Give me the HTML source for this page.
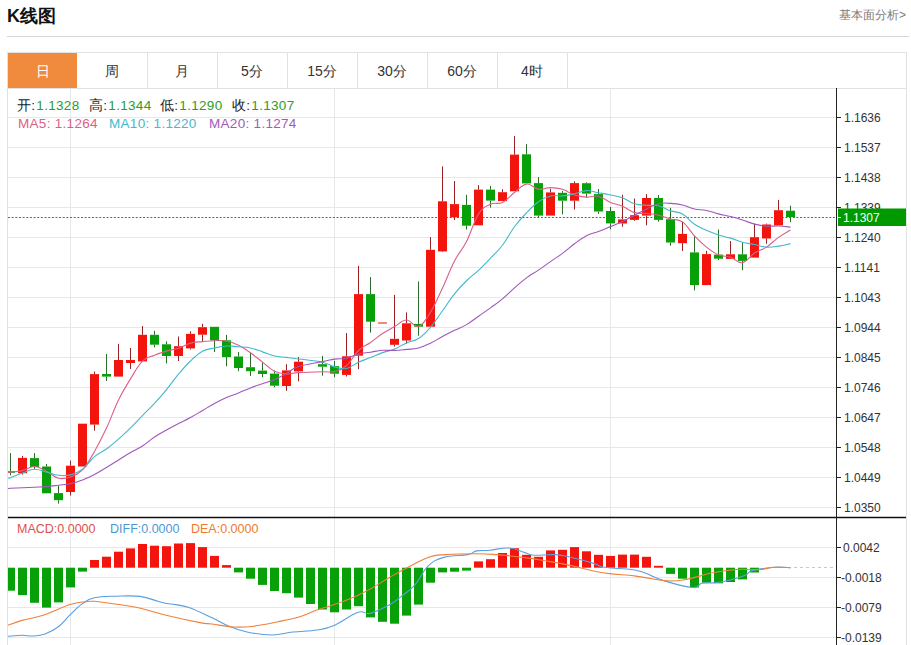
<!DOCTYPE html>
<html><head><meta charset="utf-8">
<style>
html,body{margin:0;padding:0;background:#fff;}
body{width:911px;height:645px;overflow:hidden;position:relative;font-family:"Liberation Sans",sans-serif;}
.title{position:absolute;left:7px;top:4px;font-size:18px;font-weight:bold;color:#111;line-height:24px;}
.more{position:absolute;right:5px;top:7px;font-size:12px;color:#7c7c7c;line-height:16px;}
.hline{position:absolute;left:7px;top:36px;width:902px;height:1px;background:#d6d6d6;}
.tabs{position:absolute;left:7px;top:52px;width:898px;height:35px;border:1px solid #e2e2e2;border-right:1px solid #e2e2e2;}
.tab{position:absolute;top:0;height:35px;width:70px;border-right:1px solid #e2e2e2;text-align:center;line-height:37px;font-size:14px;color:#333;}
.tab.on{background:#f08a3c;color:#fff;border-right:none;top:0px;}
.chart{position:absolute;left:7px;top:88px;width:898px;height:600px;border-left:1px solid #e2e2e2;border-right:1px solid #e2e2e2;}
svg{position:absolute;left:0;top:0;}
.info{position:absolute;font-size:13.5px;line-height:16px;white-space:nowrap;letter-spacing:0.3px;}
.info span{margin-left:1px;}
.mi{position:absolute;font-size:12.5px;line-height:16px;white-space:nowrap;}
</style></head><body>
<div class="title">K线图</div>
<div class="more">基本面分析&gt;</div>
<div class="hline"></div>
<div class="tabs">
<div class="tab on" style="left:0;width:69px">日</div>
<div class="tab" style="left:69px">周</div>
<div class="tab" style="left:139px">月</div>
<div class="tab" style="left:209px">5分</div>
<div class="tab" style="left:279px">15分</div>
<div class="tab" style="left:349px">30分</div>
<div class="tab" style="left:419px">60分</div>
<div class="tab" style="left:489px">4时</div>
</div>
<div class="chart"></div>
<svg width="911" height="645">
<defs><clipPath id="cm"><rect x="8" y="88" width="828" height="557"/></clipPath></defs>
<line x1="8" y1="117.5" x2="836" y2="117.5" stroke="#e6e8ec" stroke-width="1"/>
<line x1="8" y1="147.5" x2="836" y2="147.5" stroke="#e6e8ec" stroke-width="1"/>
<line x1="8" y1="177.5" x2="836" y2="177.5" stroke="#e6e8ec" stroke-width="1"/>
<line x1="8" y1="207.5" x2="836" y2="207.5" stroke="#e6e8ec" stroke-width="1"/>
<line x1="8" y1="237.5" x2="836" y2="237.5" stroke="#e6e8ec" stroke-width="1"/>
<line x1="8" y1="267.5" x2="836" y2="267.5" stroke="#e6e8ec" stroke-width="1"/>
<line x1="8" y1="297.5" x2="836" y2="297.5" stroke="#e6e8ec" stroke-width="1"/>
<line x1="8" y1="327.5" x2="836" y2="327.5" stroke="#e6e8ec" stroke-width="1"/>
<line x1="8" y1="357.5" x2="836" y2="357.5" stroke="#e6e8ec" stroke-width="1"/>
<line x1="8" y1="387.5" x2="836" y2="387.5" stroke="#e6e8ec" stroke-width="1"/>
<line x1="8" y1="417.5" x2="836" y2="417.5" stroke="#e6e8ec" stroke-width="1"/>
<line x1="8" y1="447.5" x2="836" y2="447.5" stroke="#e6e8ec" stroke-width="1"/>
<line x1="8" y1="477.5" x2="836" y2="477.5" stroke="#e6e8ec" stroke-width="1"/>
<line x1="8" y1="507.5" x2="836" y2="507.5" stroke="#e6e8ec" stroke-width="1"/>
<line x1="8" y1="547.5" x2="836" y2="547.5" stroke="#e6e8ec" stroke-width="1"/>
<line x1="8" y1="577.5" x2="836" y2="577.5" stroke="#e6e8ec" stroke-width="1"/>
<line x1="8" y1="607.5" x2="836" y2="607.5" stroke="#e6e8ec" stroke-width="1"/>
<line x1="8" y1="637.5" x2="836" y2="637.5" stroke="#e6e8ec" stroke-width="1"/>
<line x1="70.5" y1="88" x2="70.5" y2="645" stroke="#e6e8ec" stroke-width="1"/>
<line x1="334.5" y1="88" x2="334.5" y2="645" stroke="#e6e8ec" stroke-width="1"/>
<line x1="610.5" y1="88" x2="610.5" y2="645" stroke="#e6e8ec" stroke-width="1"/>
<line x1="8" y1="217.5" x2="836" y2="217.5" stroke="#2e8b2e" stroke-width="1" stroke-dasharray="2,1.65"/>
<g clip-path="url(#cm)"><line x1="10.5" y1="453.1" x2="10.5" y2="471.2" stroke="#2a6e2a" stroke-width="1"/><line x1="10.5" y1="472.8" x2="10.5" y2="475.3" stroke="#2a6e2a" stroke-width="1"/><rect x="6.0" y="471.2" width="9" height="1.6" fill="#08a008"/><line x1="22.5" y1="455.9" x2="22.5" y2="457.9" stroke="#9a2222" stroke-width="1"/><line x1="22.5" y1="473.2" x2="22.5" y2="474.7" stroke="#9a2222" stroke-width="1"/><rect x="18.0" y="457.9" width="9" height="15.3" fill="#f4140e"/><line x1="34.5" y1="453.1" x2="34.5" y2="458.1" stroke="#2a6e2a" stroke-width="1"/><line x1="34.5" y1="467.0" x2="34.5" y2="469.2" stroke="#2a6e2a" stroke-width="1"/><rect x="30.0" y="458.1" width="9" height="8.9" fill="#08a008"/><line x1="46.5" y1="464.0" x2="46.5" y2="466.5" stroke="#2a6e2a" stroke-width="1"/><rect x="42.0" y="466.5" width="9" height="26.8" fill="#08a008"/><line x1="58.5" y1="485.8" x2="58.5" y2="493.1" stroke="#2a6e2a" stroke-width="1"/><line x1="58.5" y1="500.2" x2="58.5" y2="503.6" stroke="#2a6e2a" stroke-width="1"/><rect x="54.0" y="493.1" width="9" height="7.1" fill="#08a008"/><line x1="70.5" y1="460.6" x2="70.5" y2="465.7" stroke="#9a2222" stroke-width="1"/><line x1="70.5" y1="492.0" x2="70.5" y2="495.5" stroke="#9a2222" stroke-width="1"/><rect x="66.0" y="465.7" width="9" height="26.3" fill="#f4140e"/><rect x="78.0" y="423.7" width="9" height="42.8" fill="#f4140e"/><line x1="94.5" y1="371.5" x2="94.5" y2="374.1" stroke="#9a2222" stroke-width="1"/><line x1="94.5" y1="424.6" x2="94.5" y2="430.6" stroke="#9a2222" stroke-width="1"/><rect x="90.0" y="374.1" width="9" height="50.5" fill="#f4140e"/><line x1="106.5" y1="354.0" x2="106.5" y2="374.0" stroke="#2a6e2a" stroke-width="1"/><line x1="106.5" y1="376.6" x2="106.5" y2="381.0" stroke="#2a6e2a" stroke-width="1"/><rect x="102.0" y="374.0" width="9" height="2.6" fill="#08a008"/><line x1="118.5" y1="343.9" x2="118.5" y2="360.0" stroke="#9a2222" stroke-width="1"/><rect x="114.0" y="360.0" width="9" height="16.6" fill="#f4140e"/><line x1="130.5" y1="348.0" x2="130.5" y2="360.0" stroke="#9a2222" stroke-width="1"/><line x1="130.5" y1="363.0" x2="130.5" y2="369.0" stroke="#9a2222" stroke-width="1"/><rect x="126.0" y="360.0" width="9" height="3.0" fill="#f4140e"/><line x1="142.5" y1="326.0" x2="142.5" y2="334.8" stroke="#9a2222" stroke-width="1"/><rect x="138.0" y="334.8" width="9" height="26.6" fill="#f4140e"/><line x1="154.5" y1="330.8" x2="154.5" y2="334.8" stroke="#2a6e2a" stroke-width="1"/><line x1="154.5" y1="344.7" x2="154.5" y2="347.3" stroke="#2a6e2a" stroke-width="1"/><rect x="150.0" y="334.8" width="9" height="9.9" fill="#08a008"/><line x1="166.5" y1="341.3" x2="166.5" y2="344.3" stroke="#2a6e2a" stroke-width="1"/><line x1="166.5" y1="356.0" x2="166.5" y2="363.4" stroke="#2a6e2a" stroke-width="1"/><rect x="162.0" y="344.3" width="9" height="11.7" fill="#08a008"/><line x1="178.5" y1="336.5" x2="178.5" y2="346.2" stroke="#9a2222" stroke-width="1"/><line x1="178.5" y1="356.0" x2="178.5" y2="361.0" stroke="#9a2222" stroke-width="1"/><rect x="174.0" y="346.2" width="9" height="9.8" fill="#f4140e"/><line x1="190.5" y1="331.3" x2="190.5" y2="333.9" stroke="#9a2222" stroke-width="1"/><line x1="190.5" y1="348.4" x2="190.5" y2="349.6" stroke="#9a2222" stroke-width="1"/><rect x="186.0" y="333.9" width="9" height="14.5" fill="#f4140e"/><line x1="202.5" y1="323.8" x2="202.5" y2="327.2" stroke="#9a2222" stroke-width="1"/><line x1="202.5" y1="334.7" x2="202.5" y2="342.0" stroke="#9a2222" stroke-width="1"/><rect x="198.0" y="327.2" width="9" height="7.5" fill="#f4140e"/><line x1="214.5" y1="340.3" x2="214.5" y2="352.0" stroke="#2a6e2a" stroke-width="1"/><rect x="210.0" y="326.8" width="9" height="13.5" fill="#08a008"/><line x1="226.5" y1="334.9" x2="226.5" y2="340.3" stroke="#2a6e2a" stroke-width="1"/><line x1="226.5" y1="357.1" x2="226.5" y2="366.2" stroke="#2a6e2a" stroke-width="1"/><rect x="222.0" y="340.3" width="9" height="16.8" fill="#08a008"/><line x1="238.5" y1="352.0" x2="238.5" y2="356.5" stroke="#2a6e2a" stroke-width="1"/><line x1="238.5" y1="368.0" x2="238.5" y2="371.2" stroke="#2a6e2a" stroke-width="1"/><rect x="234.0" y="356.5" width="9" height="11.5" fill="#08a008"/><line x1="250.5" y1="352.8" x2="250.5" y2="367.2" stroke="#2a6e2a" stroke-width="1"/><line x1="250.5" y1="371.2" x2="250.5" y2="376.0" stroke="#2a6e2a" stroke-width="1"/><rect x="246.0" y="367.2" width="9" height="4.0" fill="#08a008"/><line x1="262.5" y1="362.1" x2="262.5" y2="370.6" stroke="#2a6e2a" stroke-width="1"/><line x1="262.5" y1="374.0" x2="262.5" y2="377.2" stroke="#2a6e2a" stroke-width="1"/><rect x="258.0" y="370.6" width="9" height="3.4" fill="#08a008"/><line x1="274.5" y1="370.6" x2="274.5" y2="373.6" stroke="#2a6e2a" stroke-width="1"/><line x1="274.5" y1="385.7" x2="274.5" y2="387.3" stroke="#2a6e2a" stroke-width="1"/><rect x="270.0" y="373.6" width="9" height="12.1" fill="#08a008"/><line x1="286.5" y1="364.2" x2="286.5" y2="370.4" stroke="#9a2222" stroke-width="1"/><line x1="286.5" y1="386.0" x2="286.5" y2="390.7" stroke="#9a2222" stroke-width="1"/><rect x="282.0" y="370.4" width="9" height="15.6" fill="#f4140e"/><line x1="298.5" y1="357.1" x2="298.5" y2="361.7" stroke="#9a2222" stroke-width="1"/><line x1="298.5" y1="371.4" x2="298.5" y2="381.3" stroke="#9a2222" stroke-width="1"/><rect x="294.0" y="361.7" width="9" height="9.7" fill="#f4140e"/><line x1="322.5" y1="355.9" x2="322.5" y2="364.2" stroke="#2a6e2a" stroke-width="1"/><line x1="322.5" y1="366.7" x2="322.5" y2="375.7" stroke="#2a6e2a" stroke-width="1"/><rect x="318.0" y="364.2" width="9" height="2.5" fill="#08a008"/><line x1="334.5" y1="360.9" x2="334.5" y2="366.1" stroke="#2a6e2a" stroke-width="1"/><line x1="334.5" y1="373.7" x2="334.5" y2="377.2" stroke="#2a6e2a" stroke-width="1"/><rect x="330.0" y="366.1" width="9" height="7.6" fill="#08a008"/><line x1="346.5" y1="333.1" x2="346.5" y2="356.3" stroke="#9a2222" stroke-width="1"/><line x1="346.5" y1="374.9" x2="346.5" y2="376.5" stroke="#9a2222" stroke-width="1"/><rect x="342.0" y="356.3" width="9" height="18.6" fill="#f4140e"/><line x1="358.5" y1="265.9" x2="358.5" y2="294.1" stroke="#9a2222" stroke-width="1"/><line x1="358.5" y1="355.7" x2="358.5" y2="369.2" stroke="#9a2222" stroke-width="1"/><rect x="354.0" y="294.1" width="9" height="61.6" fill="#f4140e"/><line x1="370.5" y1="277.1" x2="370.5" y2="294.1" stroke="#2a6e2a" stroke-width="1"/><line x1="370.5" y1="321.7" x2="370.5" y2="332.6" stroke="#2a6e2a" stroke-width="1"/><rect x="366.0" y="294.1" width="9" height="27.6" fill="#08a008"/><rect x="378.0" y="322.1" width="9" height="1.8" fill="#ee8070"/><line x1="394.5" y1="294.9" x2="394.5" y2="338.8" stroke="#9a2222" stroke-width="1"/><line x1="394.5" y1="344.8" x2="394.5" y2="346.5" stroke="#9a2222" stroke-width="1"/><rect x="390.0" y="338.8" width="9" height="6.0" fill="#f4140e"/><line x1="406.5" y1="312.4" x2="406.5" y2="323.3" stroke="#9a2222" stroke-width="1"/><line x1="406.5" y1="340.5" x2="406.5" y2="343.8" stroke="#9a2222" stroke-width="1"/><rect x="402.0" y="323.3" width="9" height="17.2" fill="#f4140e"/><line x1="418.5" y1="281.4" x2="418.5" y2="323.9" stroke="#2a6e2a" stroke-width="1"/><line x1="418.5" y1="326.7" x2="418.5" y2="335.8" stroke="#2a6e2a" stroke-width="1"/><rect x="414.0" y="323.9" width="9" height="2.8" fill="#08a008"/><line x1="430.5" y1="237.1" x2="430.5" y2="249.8" stroke="#9a2222" stroke-width="1"/><rect x="426.0" y="249.8" width="9" height="76.9" fill="#f4140e"/><line x1="442.5" y1="166.4" x2="442.5" y2="201.3" stroke="#9a2222" stroke-width="1"/><line x1="442.5" y1="251.4" x2="442.5" y2="252.0" stroke="#9a2222" stroke-width="1"/><rect x="438.0" y="201.3" width="9" height="50.1" fill="#f4140e"/><line x1="454.5" y1="181.0" x2="454.5" y2="204.1" stroke="#9a2222" stroke-width="1"/><line x1="454.5" y1="217.3" x2="454.5" y2="220.0" stroke="#9a2222" stroke-width="1"/><rect x="450.0" y="204.1" width="9" height="13.2" fill="#f4140e"/><line x1="466.5" y1="194.8" x2="466.5" y2="204.9" stroke="#2a6e2a" stroke-width="1"/><line x1="466.5" y1="225.7" x2="466.5" y2="229.5" stroke="#2a6e2a" stroke-width="1"/><rect x="462.0" y="204.9" width="9" height="20.8" fill="#08a008"/><line x1="478.5" y1="185.2" x2="478.5" y2="189.6" stroke="#9a2222" stroke-width="1"/><rect x="474.0" y="189.6" width="9" height="35.7" fill="#f4140e"/><line x1="490.5" y1="186.0" x2="490.5" y2="189.6" stroke="#2a6e2a" stroke-width="1"/><line x1="490.5" y1="200.6" x2="490.5" y2="207.6" stroke="#2a6e2a" stroke-width="1"/><rect x="486.0" y="189.6" width="9" height="11.0" fill="#08a008"/><line x1="502.5" y1="189.2" x2="502.5" y2="192.2" stroke="#9a2222" stroke-width="1"/><rect x="498.0" y="192.2" width="9" height="8.9" fill="#f4140e"/><line x1="514.5" y1="136.1" x2="514.5" y2="154.6" stroke="#9a2222" stroke-width="1"/><rect x="510.0" y="154.6" width="9" height="36.7" fill="#f4140e"/><line x1="526.5" y1="144.1" x2="526.5" y2="154.3" stroke="#2a6e2a" stroke-width="1"/><rect x="522.0" y="154.3" width="9" height="29.1" fill="#08a008"/><line x1="538.5" y1="177.1" x2="538.5" y2="183.1" stroke="#2a6e2a" stroke-width="1"/><line x1="538.5" y1="215.6" x2="538.5" y2="217.0" stroke="#2a6e2a" stroke-width="1"/><rect x="534.0" y="183.1" width="9" height="32.5" fill="#08a008"/><line x1="550.5" y1="188.8" x2="550.5" y2="192.4" stroke="#9a2222" stroke-width="1"/><rect x="546.0" y="192.4" width="9" height="23.2" fill="#f4140e"/><line x1="562.5" y1="190.9" x2="562.5" y2="192.8" stroke="#2a6e2a" stroke-width="1"/><line x1="562.5" y1="200.7" x2="562.5" y2="214.3" stroke="#2a6e2a" stroke-width="1"/><rect x="558.0" y="192.8" width="9" height="7.9" fill="#08a008"/><line x1="574.5" y1="181.3" x2="574.5" y2="183.1" stroke="#9a2222" stroke-width="1"/><line x1="574.5" y1="200.7" x2="574.5" y2="209.6" stroke="#9a2222" stroke-width="1"/><rect x="570.0" y="183.1" width="9" height="17.6" fill="#f4140e"/><line x1="586.5" y1="182.3" x2="586.5" y2="183.2" stroke="#2a6e2a" stroke-width="1"/><line x1="586.5" y1="193.6" x2="586.5" y2="197.7" stroke="#2a6e2a" stroke-width="1"/><rect x="582.0" y="183.2" width="9" height="10.4" fill="#08a008"/><line x1="598.5" y1="189.0" x2="598.5" y2="194.1" stroke="#2a6e2a" stroke-width="1"/><line x1="598.5" y1="211.5" x2="598.5" y2="213.9" stroke="#2a6e2a" stroke-width="1"/><rect x="594.0" y="194.1" width="9" height="17.4" fill="#08a008"/><line x1="610.5" y1="206.9" x2="610.5" y2="211.0" stroke="#2a6e2a" stroke-width="1"/><line x1="610.5" y1="223.4" x2="610.5" y2="229.4" stroke="#2a6e2a" stroke-width="1"/><rect x="606.0" y="211.0" width="9" height="12.4" fill="#08a008"/><line x1="622.5" y1="194.8" x2="622.5" y2="219.4" stroke="#9a2222" stroke-width="1"/><line x1="622.5" y1="223.5" x2="622.5" y2="226.7" stroke="#9a2222" stroke-width="1"/><rect x="618.0" y="219.4" width="9" height="4.1" fill="#f4140e"/><line x1="634.5" y1="198.6" x2="634.5" y2="215.2" stroke="#9a2222" stroke-width="1"/><line x1="634.5" y1="219.9" x2="634.5" y2="220.8" stroke="#9a2222" stroke-width="1"/><rect x="630.0" y="215.2" width="9" height="4.7" fill="#f4140e"/><line x1="646.5" y1="194.2" x2="646.5" y2="198.0" stroke="#9a2222" stroke-width="1"/><line x1="646.5" y1="215.6" x2="646.5" y2="225.3" stroke="#9a2222" stroke-width="1"/><rect x="642.0" y="198.0" width="9" height="17.6" fill="#f4140e"/><line x1="658.5" y1="195.1" x2="658.5" y2="198.0" stroke="#2a6e2a" stroke-width="1"/><line x1="658.5" y1="219.9" x2="658.5" y2="221.7" stroke="#2a6e2a" stroke-width="1"/><rect x="654.0" y="198.0" width="9" height="21.9" fill="#08a008"/><line x1="670.5" y1="207.8" x2="670.5" y2="219.2" stroke="#2a6e2a" stroke-width="1"/><line x1="670.5" y1="242.5" x2="670.5" y2="245.7" stroke="#2a6e2a" stroke-width="1"/><rect x="666.0" y="219.2" width="9" height="23.3" fill="#08a008"/><line x1="682.5" y1="221.8" x2="682.5" y2="233.9" stroke="#9a2222" stroke-width="1"/><line x1="682.5" y1="243.2" x2="682.5" y2="250.9" stroke="#9a2222" stroke-width="1"/><rect x="678.0" y="233.9" width="9" height="9.3" fill="#f4140e"/><line x1="694.5" y1="236.1" x2="694.5" y2="252.4" stroke="#2a6e2a" stroke-width="1"/><line x1="694.5" y1="285.1" x2="694.5" y2="290.3" stroke="#2a6e2a" stroke-width="1"/><rect x="690.0" y="252.4" width="9" height="32.7" fill="#08a008"/><line x1="706.5" y1="250.9" x2="706.5" y2="254.1" stroke="#9a2222" stroke-width="1"/><rect x="702.0" y="254.1" width="9" height="31.0" fill="#f4140e"/><line x1="718.5" y1="229.5" x2="718.5" y2="254.6" stroke="#2a6e2a" stroke-width="1"/><line x1="718.5" y1="258.7" x2="718.5" y2="260.2" stroke="#2a6e2a" stroke-width="1"/><rect x="714.0" y="254.6" width="9" height="4.1" fill="#08a008"/><line x1="730.5" y1="241.1" x2="730.5" y2="254.3" stroke="#9a2222" stroke-width="1"/><rect x="726.0" y="254.3" width="9" height="4.6" fill="#f4140e"/><line x1="742.5" y1="242.7" x2="742.5" y2="254.3" stroke="#2a6e2a" stroke-width="1"/><line x1="742.5" y1="260.9" x2="742.5" y2="270.1" stroke="#2a6e2a" stroke-width="1"/><rect x="738.0" y="254.3" width="9" height="6.6" fill="#08a008"/><line x1="754.5" y1="223.6" x2="754.5" y2="237.2" stroke="#9a2222" stroke-width="1"/><rect x="750.0" y="237.2" width="9" height="20.4" fill="#f4140e"/><line x1="766.5" y1="223.6" x2="766.5" y2="224.5" stroke="#9a2222" stroke-width="1"/><line x1="766.5" y1="238.5" x2="766.5" y2="243.8" stroke="#9a2222" stroke-width="1"/><rect x="762.0" y="224.5" width="9" height="14.0" fill="#f4140e"/><line x1="778.5" y1="199.9" x2="778.5" y2="210.2" stroke="#9a2222" stroke-width="1"/><rect x="774.0" y="210.2" width="9" height="15.1" fill="#f4140e"/><line x1="790.5" y1="205.8" x2="790.5" y2="210.7" stroke="#2a6e2a" stroke-width="1"/><line x1="790.5" y1="217.0" x2="790.5" y2="222.2" stroke="#2a6e2a" stroke-width="1"/><rect x="786.0" y="210.7" width="9" height="6.3" fill="#08a008"/></g>
<g clip-path="url(#cm)" fill="none" stroke-width="1.1" stroke-linejoin="round">
<path d="M8.00,473.00C8.50,472.82 7.60,472.58 10.50,472.10C13.40,471.62 17.70,471.72 22.50,470.60C27.30,469.48 29.70,466.38 34.50,466.50C39.30,466.62 41.70,468.85 46.50,471.20C51.30,473.55 53.70,477.12 58.50,478.24C63.30,479.36 65.70,478.47 70.50,476.82C75.30,475.17 77.70,475.06 82.50,469.98C87.30,464.90 89.70,459.78 94.50,451.40C99.30,443.02 101.70,438.34 106.50,428.06C111.30,417.78 113.70,409.86 118.50,400.02C123.30,390.18 125.70,386.66 130.50,378.88C135.30,371.10 137.70,365.83 142.50,361.10C147.30,356.37 149.70,357.22 154.50,355.22C159.30,353.22 161.70,352.48 166.50,351.10C171.30,349.72 173.70,349.94 178.50,348.34C183.30,346.74 185.70,344.47 190.50,343.12C195.30,341.77 197.70,342.08 202.50,341.60C207.30,341.12 209.70,340.85 214.50,340.72C219.30,340.59 221.70,340.02 226.50,340.94C231.30,341.86 233.70,342.94 238.50,345.30C243.30,347.66 245.70,349.40 250.50,352.76C255.30,356.12 257.70,358.43 262.50,362.12C267.30,365.81 269.70,368.85 274.50,371.20C279.30,373.55 281.70,373.58 286.50,373.86C291.30,374.14 291.30,373.03 298.50,372.60C305.70,372.17 315.30,371.89 322.50,371.70C329.70,371.51 329.70,372.83 334.50,371.64C339.30,370.45 341.70,369.99 346.50,365.76C351.30,361.53 353.70,355.15 358.50,350.50C363.30,345.85 365.70,345.88 370.50,342.50C375.30,339.12 377.70,336.76 382.50,333.58C387.30,330.40 389.70,329.32 394.50,326.60C399.30,323.88 401.70,320.02 406.50,320.00C411.30,319.98 413.70,328.09 418.50,326.52C423.30,324.95 425.70,319.85 430.50,312.14C435.30,304.43 437.70,298.20 442.50,287.98C447.30,277.76 449.70,270.33 454.50,261.04C459.30,251.75 461.70,250.91 466.50,241.52C471.30,232.13 473.70,221.55 478.50,214.10C483.30,206.65 485.70,206.59 490.50,204.26C495.30,201.93 497.70,204.78 502.50,202.44C507.30,200.10 509.70,196.21 514.50,192.54C519.30,188.87 521.70,184.73 526.50,184.08C531.30,183.43 533.70,188.57 538.50,189.28C543.30,189.99 545.70,187.63 550.50,187.64C555.30,187.65 557.70,187.86 562.50,189.34C567.30,190.82 569.70,193.49 574.50,195.04C579.30,196.59 581.70,196.84 586.50,197.08C591.30,197.32 593.70,195.18 598.50,196.26C603.30,197.34 605.70,200.47 610.50,202.46C615.30,204.45 617.70,204.17 622.50,206.20C627.30,208.23 629.70,211.16 634.50,212.62C639.30,214.08 641.70,212.99 646.50,213.50C651.30,214.01 653.70,214.08 658.50,215.18C663.30,216.28 665.70,217.66 670.50,219.00C675.30,220.34 677.70,218.52 682.50,221.90C687.30,225.28 689.70,230.84 694.50,235.88C699.30,240.92 701.70,243.30 706.50,247.10C711.30,250.90 713.70,252.84 718.50,254.86C723.30,256.88 725.70,255.67 730.50,257.22C735.30,258.77 737.70,263.46 742.50,262.62C747.30,261.78 749.70,256.14 754.50,253.04C759.30,249.94 761.70,250.24 766.50,247.12C771.30,244.00 773.70,240.85 778.50,237.42C783.30,233.99 788.10,231.45 790.50,229.96" stroke="#dc5f89"/>
<path d="M8.00,478.30C8.50,478.18 7.60,478.76 10.50,477.70C13.40,476.64 17.70,474.68 22.50,473.00C27.30,471.32 29.70,469.48 34.50,469.30C39.30,469.12 41.70,470.90 46.50,472.10C51.30,473.30 53.70,474.74 58.50,475.30C63.30,475.86 65.70,476.10 70.50,474.90C75.30,473.70 77.70,472.94 82.50,469.30C87.30,465.66 89.70,460.76 94.50,456.70C99.30,452.64 101.70,452.51 106.50,449.00C111.30,445.49 113.70,443.36 118.50,439.13C123.30,434.90 125.70,432.57 130.50,427.85C135.30,423.13 137.70,420.45 142.50,415.54C147.30,410.63 149.70,408.50 154.50,403.31C159.30,398.12 161.70,395.41 166.50,389.58C171.30,383.75 173.70,379.90 178.50,374.18C183.30,368.46 185.70,365.57 190.50,361.00C195.30,356.43 197.70,353.96 202.50,351.35C207.30,348.74 209.70,349.04 214.50,347.97C219.30,346.90 221.70,346.25 226.50,346.02C231.30,345.79 233.70,346.44 238.50,346.82C243.30,347.20 245.70,346.93 250.50,347.94C255.30,348.95 257.70,350.26 262.50,351.86C267.30,353.46 269.70,354.85 274.50,355.96C279.30,357.07 281.70,356.80 286.50,357.40C291.30,358.00 291.30,357.98 298.50,358.95C305.70,359.92 315.30,360.64 322.50,362.23C329.70,363.82 329.70,365.63 334.50,366.88C339.30,368.13 341.70,369.42 346.50,368.48C351.30,367.54 353.70,364.37 358.50,362.18C363.30,359.99 365.70,359.46 370.50,357.55C375.30,355.64 377.70,354.33 382.50,352.64C387.30,350.95 389.70,351.07 394.50,349.12C399.30,347.17 401.70,345.00 406.50,342.88C411.30,340.76 413.70,341.62 418.50,338.51C423.30,335.40 425.70,332.87 430.50,327.32C435.30,321.77 437.70,317.48 442.50,310.78C447.30,304.08 449.70,299.82 454.50,293.82C459.30,287.82 461.70,285.46 466.50,280.76C471.30,276.06 473.70,274.82 478.50,270.31C483.30,265.80 485.70,263.22 490.50,258.20C495.30,253.18 497.70,251.49 502.50,245.21C507.30,238.93 509.70,233.27 514.50,226.79C519.30,220.31 521.70,217.82 526.50,212.80C531.30,207.78 533.70,205.06 538.50,201.69C543.30,198.32 545.70,197.11 550.50,195.95C555.30,194.79 557.70,196.32 562.50,195.89C567.30,195.46 569.70,194.85 574.50,193.79C579.30,192.73 581.70,190.78 586.50,190.58C591.30,190.38 593.70,191.88 598.50,192.77C603.30,193.66 605.70,194.05 610.50,195.05C615.30,196.05 617.70,196.01 622.50,197.77C627.30,199.53 629.70,202.33 634.50,203.83C639.30,205.33 641.70,204.91 646.50,205.29C651.30,205.67 653.70,204.63 658.50,205.72C663.30,206.81 665.70,209.06 670.50,210.73C675.30,212.40 677.70,211.35 682.50,214.05C687.30,216.75 689.70,221.00 694.50,224.25C699.30,227.50 701.70,228.15 706.50,230.30C711.30,232.45 713.70,233.46 718.50,235.02C723.30,236.58 725.70,236.66 730.50,238.11C735.30,239.56 737.70,240.99 742.50,242.26C747.30,243.53 749.70,243.49 754.50,244.46C759.30,245.43 761.70,246.77 766.50,247.11C771.30,247.45 773.70,246.84 778.50,246.14C783.30,245.44 788.10,244.10 790.50,243.59" stroke="#42b8cc"/>
<path d="M8.00,488.50C8.50,488.46 7.60,488.44 10.50,488.30C13.40,488.16 17.70,488.02 22.50,487.80C27.30,487.58 29.70,487.44 34.50,487.20C39.30,486.96 41.70,487.00 46.50,486.60C51.30,486.20 53.70,485.80 58.50,485.20C63.30,484.60 65.70,484.64 70.50,483.60C75.30,482.56 77.70,481.82 82.50,480.00C87.30,478.18 89.70,477.00 94.50,474.50C99.30,472.00 101.70,470.40 106.50,467.50C111.30,464.60 113.70,463.00 118.50,460.00C123.30,457.00 125.70,455.30 130.50,452.50C135.30,449.70 137.70,449.10 142.50,446.00C147.30,442.90 149.70,440.20 154.50,437.00C159.30,433.80 161.70,432.68 166.50,430.00C171.30,427.32 173.70,426.10 178.50,423.60C183.30,421.10 185.70,420.12 190.50,417.50C195.30,414.88 197.70,413.30 202.50,410.50C207.30,407.70 209.70,406.10 214.50,403.50C219.30,400.90 221.70,399.61 226.50,397.50C231.30,395.39 233.70,394.90 238.50,392.98C243.30,391.05 245.70,389.75 250.50,387.89C255.30,386.04 257.70,385.35 262.50,383.70C267.30,382.05 269.70,381.68 274.50,379.63C279.30,377.59 281.70,376.10 286.50,373.49C291.30,370.88 291.30,368.94 298.50,366.56C305.70,364.19 315.30,363.11 322.50,361.62C329.70,360.12 329.70,359.79 334.50,359.12C339.30,358.44 341.70,359.23 346.50,358.23C351.30,357.22 353.70,355.31 358.50,354.10C363.30,352.89 365.70,352.95 370.50,352.19C375.30,351.42 377.70,350.63 382.50,350.29C387.30,349.95 389.70,350.66 394.50,350.49C399.30,350.32 401.70,349.93 406.50,349.42C411.30,348.91 413.70,349.21 418.50,347.96C423.30,346.70 425.70,345.43 430.50,343.13C435.30,340.84 437.70,339.06 442.50,336.50C447.30,333.95 449.70,332.73 454.50,330.35C459.30,327.97 461.70,327.44 466.50,324.62C471.30,321.80 473.70,319.59 478.50,316.25C483.30,312.90 485.70,311.34 490.50,307.88C495.30,304.41 497.70,302.91 502.50,298.93C507.30,294.94 509.70,292.17 514.50,287.96C519.30,283.74 521.70,281.41 526.50,277.84C531.30,274.27 533.70,273.34 538.50,270.10C543.30,266.86 545.70,264.99 550.50,261.63C555.30,258.28 557.70,256.90 562.50,253.33C567.30,249.77 569.70,247.34 574.50,243.81C579.30,240.27 581.70,238.12 586.50,235.67C591.30,233.22 593.70,233.35 598.50,231.54C603.30,229.73 605.70,228.63 610.50,226.62C615.30,224.62 617.70,223.75 622.50,221.49C627.30,219.23 629.70,217.80 634.50,215.31C639.30,212.82 641.70,211.37 646.50,209.04C651.30,206.72 653.70,204.85 658.50,203.70C663.30,202.56 665.70,203.09 670.50,203.34C675.30,203.59 677.70,203.83 682.50,204.97C687.30,206.11 689.70,207.93 694.50,209.02C699.30,210.11 701.70,209.47 706.50,210.44C711.30,211.41 713.70,212.67 718.50,213.89C723.30,215.12 725.70,215.36 730.50,216.58C735.30,217.80 737.70,218.50 742.50,220.02C747.30,221.53 749.70,222.91 754.50,224.14C759.30,225.38 761.70,225.84 766.50,226.20C771.30,226.56 773.70,225.74 778.50,225.93C783.30,226.12 788.10,226.91 790.50,227.16" stroke="#a057bb"/>
</g>
<g clip-path="url(#cm)"><rect x="6.0" y="567.7" width="9" height="23.0" fill="#08a008"/><rect x="18.0" y="567.7" width="9" height="27.4" fill="#08a008"/><rect x="30.0" y="567.7" width="9" height="35.1" fill="#08a008"/><rect x="42.0" y="567.7" width="9" height="39.9" fill="#08a008"/><rect x="54.0" y="567.7" width="9" height="34.7" fill="#08a008"/><rect x="66.0" y="567.7" width="9" height="19.7" fill="#08a008"/><rect x="78.0" y="567.7" width="9" height="3.9" fill="#08a008"/><rect x="90.0" y="560.0" width="9" height="7.7" fill="#f4140e"/><rect x="102.0" y="556.7" width="9" height="11.0" fill="#f4140e"/><rect x="114.0" y="551.7" width="9" height="16.0" fill="#f4140e"/><rect x="126.0" y="548.4" width="9" height="19.3" fill="#f4140e"/><rect x="138.0" y="544.0" width="9" height="23.7" fill="#f4140e"/><rect x="150.0" y="545.7" width="9" height="22.0" fill="#f4140e"/><rect x="162.0" y="546.2" width="9" height="21.5" fill="#f4140e"/><rect x="174.0" y="543.5" width="9" height="24.2" fill="#f4140e"/><rect x="186.0" y="543.1" width="9" height="24.6" fill="#f4140e"/><rect x="198.0" y="547.1" width="9" height="20.6" fill="#f4140e"/><rect x="210.0" y="555.9" width="9" height="11.8" fill="#f4140e"/><rect x="222.0" y="565.1" width="9" height="2.6" fill="#f4140e"/><rect x="234.0" y="567.7" width="9" height="4.7" fill="#08a008"/><rect x="246.0" y="567.7" width="9" height="11.0" fill="#08a008"/><rect x="258.0" y="567.7" width="9" height="17.2" fill="#08a008"/><rect x="270.0" y="567.7" width="9" height="23.3" fill="#08a008"/><rect x="282.0" y="567.7" width="9" height="25.5" fill="#08a008"/><rect x="294.0" y="567.7" width="9" height="29.9" fill="#08a008"/><rect x="306.0" y="567.7" width="9" height="36.3" fill="#08a008"/><rect x="318.0" y="567.7" width="9" height="41.8" fill="#08a008"/><rect x="330.0" y="567.7" width="9" height="44.6" fill="#08a008"/><rect x="342.0" y="567.7" width="9" height="41.8" fill="#08a008"/><rect x="354.0" y="567.7" width="9" height="38.5" fill="#08a008"/><rect x="366.0" y="567.7" width="9" height="49.7" fill="#08a008"/><rect x="378.0" y="567.7" width="9" height="54.1" fill="#08a008"/><rect x="390.0" y="567.7" width="9" height="56.0" fill="#08a008"/><rect x="402.0" y="567.7" width="9" height="47.9" fill="#08a008"/><rect x="414.0" y="567.7" width="9" height="36.9" fill="#08a008"/><rect x="426.0" y="567.7" width="9" height="15.0" fill="#08a008"/><rect x="438.0" y="567.7" width="9" height="4.7" fill="#08a008"/><rect x="450.0" y="567.7" width="9" height="4.0" fill="#08a008"/><rect x="462.0" y="567.7" width="9" height="2.9" fill="#08a008"/><rect x="474.0" y="561.4" width="9" height="6.3" fill="#f4140e"/><rect x="486.0" y="559.2" width="9" height="8.5" fill="#f4140e"/><rect x="498.0" y="553.0" width="9" height="14.7" fill="#f4140e"/><rect x="510.0" y="548.2" width="9" height="19.5" fill="#f4140e"/><rect x="522.0" y="554.8" width="9" height="12.9" fill="#f4140e"/><rect x="534.0" y="556.8" width="9" height="10.9" fill="#f4140e"/><rect x="546.0" y="550.4" width="9" height="17.3" fill="#f4140e"/><rect x="558.0" y="549.8" width="9" height="17.9" fill="#f4140e"/><rect x="570.0" y="547.1" width="9" height="20.6" fill="#f4140e"/><rect x="582.0" y="551.3" width="9" height="16.4" fill="#f4140e"/><rect x="594.0" y="554.8" width="9" height="12.9" fill="#f4140e"/><rect x="606.0" y="555.9" width="9" height="11.8" fill="#f4140e"/><rect x="618.0" y="554.6" width="9" height="13.1" fill="#f4140e"/><rect x="630.0" y="554.6" width="9" height="13.1" fill="#f4140e"/><rect x="642.0" y="556.8" width="9" height="10.9" fill="#f4140e"/><rect x="654.0" y="565.8" width="9" height="1.9" fill="#f4140e"/><rect x="666.0" y="567.7" width="9" height="6.2" fill="#08a008"/><rect x="678.0" y="567.7" width="9" height="11.0" fill="#08a008"/><rect x="690.0" y="567.7" width="9" height="19.8" fill="#08a008"/><rect x="702.0" y="567.7" width="9" height="15.0" fill="#08a008"/><rect x="714.0" y="567.7" width="9" height="15.6" fill="#08a008"/><rect x="726.0" y="567.7" width="9" height="14.3" fill="#08a008"/><rect x="738.0" y="567.7" width="9" height="11.7" fill="#08a008"/><rect x="750.0" y="567.7" width="9" height="4.8" fill="#08a008"/></g>
<line x1="794" y1="567.5" x2="834" y2="567.5" stroke="#b8cce0" stroke-width="1" stroke-dasharray="3,3"/>
<g clip-path="url(#cm)" fill="none" stroke-width="1.1" stroke-linejoin="round">
<path d="M8.00,636.20C10.80,636.02 17.00,635.34 22.00,635.30C27.00,635.26 28.40,636.26 33.00,636.00C37.60,635.74 40.00,635.80 45.00,634.00C50.00,632.20 53.00,630.82 58.00,627.00C63.00,623.18 65.20,619.52 70.00,614.90C74.80,610.28 77.12,607.32 82.00,603.90C86.88,600.48 87.60,599.34 94.40,597.80C101.20,596.26 106.88,596.48 116.00,596.20C125.12,595.92 131.60,595.38 140.00,596.40C148.40,597.42 152.60,599.88 158.00,601.30C163.40,602.72 163.48,602.84 167.00,603.50C170.52,604.16 171.20,603.78 175.60,604.60C180.00,605.42 181.72,604.96 189.00,607.60C196.28,610.24 204.12,614.12 212.00,617.80C219.88,621.48 221.40,623.16 228.40,626.00C235.40,628.84 238.28,630.20 247.00,632.00C255.72,633.80 262.80,635.00 272.00,635.00C281.20,635.00 284.00,633.00 293.00,632.00C302.00,631.00 308.80,631.30 317.00,630.00C325.20,628.70 325.80,629.04 334.00,625.50C342.20,621.96 350.80,614.72 358.00,612.30C365.20,609.88 363.60,614.94 370.00,613.40C376.40,611.86 383.60,608.10 390.00,604.60C396.40,601.10 397.00,599.84 402.00,595.90C407.00,591.96 409.80,590.84 415.00,584.90C420.20,578.96 422.26,571.70 428.00,566.20C433.74,560.70 435.74,559.72 443.70,557.40C451.66,555.08 461.22,555.90 467.80,554.60C474.38,553.30 472.20,551.78 476.60,550.90C481.00,550.02 483.22,550.78 489.80,550.20C496.38,549.62 502.48,547.52 509.50,548.00C516.52,548.48 520.06,551.16 524.90,552.60C529.74,554.04 528.00,554.80 533.70,555.20C539.40,555.60 546.82,554.38 553.40,554.60C559.98,554.82 558.88,554.64 566.60,556.30C574.32,557.96 584.32,560.70 592.00,562.90C599.68,565.10 597.10,565.98 605.00,567.30C612.90,568.62 623.58,568.40 631.50,569.50C639.42,570.60 638.02,570.52 644.60,572.80C651.18,575.08 654.72,577.96 664.40,580.90C674.08,583.84 685.54,587.02 693.00,587.50C700.46,587.98 697.32,584.26 701.70,583.30C706.08,582.34 709.64,583.26 714.90,582.70C720.16,582.14 721.86,582.04 728.00,580.50C734.14,578.96 740.76,576.98 745.60,575.00C750.44,573.02 746.32,572.14 752.20,570.60C758.08,569.06 767.34,567.88 775.00,567.30C782.66,566.72 787.40,567.62 790.50,567.70" stroke="#5a9ee0"/>
<path d="M8.00,625.20C10.80,624.24 14.80,622.46 22.00,620.40C29.20,618.34 34.40,618.06 44.00,614.90C53.60,611.74 61.68,607.24 70.00,604.60C78.32,601.96 80.72,602.36 85.60,601.70C90.48,601.04 89.52,600.98 94.40,601.30C99.28,601.62 101.68,602.12 110.00,603.30C118.32,604.48 125.00,604.86 136.00,607.20C147.00,609.54 152.20,611.92 165.00,615.00C177.80,618.08 190.60,620.80 200.00,622.60C209.40,624.40 205.20,623.12 212.00,624.00C218.80,624.88 225.66,626.56 234.00,627.00C242.34,627.44 244.94,627.24 253.70,626.20C262.46,625.16 268.58,623.70 277.80,621.80C287.02,619.90 291.96,619.06 299.80,616.70C307.64,614.34 308.22,613.08 317.00,610.00C325.78,606.92 333.98,605.00 343.70,601.30C353.42,597.60 356.34,596.32 365.60,591.50C374.86,586.68 382.72,581.38 390.00,577.20C397.28,573.02 394.40,574.56 402.00,570.60C409.60,566.64 419.22,560.60 428.00,557.40C436.78,554.20 436.18,555.34 445.90,554.60C455.62,553.86 466.50,553.70 476.60,553.70C486.70,553.70 487.18,553.86 496.40,554.60C505.62,555.34 513.04,556.18 522.70,557.40C532.36,558.62 535.48,559.16 544.70,560.70C553.92,562.24 557.14,562.68 568.80,565.10C580.46,567.52 589.58,570.60 603.00,572.80C616.42,575.00 623.18,574.48 635.90,576.10C648.62,577.72 656.50,580.24 666.60,580.90C676.70,581.56 677.18,581.02 686.40,579.40C695.62,577.78 702.62,574.78 712.70,572.80C722.78,570.82 727.34,570.16 736.80,569.50C746.26,568.84 752.36,569.94 760.00,569.50C767.64,569.06 768.90,567.66 775.00,567.30C781.10,566.94 787.40,567.62 790.50,567.70" stroke="#f0803a"/>
</g>
<line x1="8" y1="517.5" x2="906" y2="517.5" stroke="#111" stroke-width="1.5"/>
<line x1="836.5" y1="88" x2="836.5" y2="645" stroke="#222" stroke-width="1"/>
<line x1="836" y1="117.5" x2="841" y2="117.5" stroke="#222" stroke-width="1"/>
<line x1="836" y1="147.5" x2="841" y2="147.5" stroke="#222" stroke-width="1"/>
<line x1="836" y1="177.5" x2="841" y2="177.5" stroke="#222" stroke-width="1"/>
<line x1="836" y1="207.5" x2="841" y2="207.5" stroke="#222" stroke-width="1"/>
<line x1="836" y1="237.5" x2="841" y2="237.5" stroke="#222" stroke-width="1"/>
<line x1="836" y1="267.5" x2="841" y2="267.5" stroke="#222" stroke-width="1"/>
<line x1="836" y1="297.5" x2="841" y2="297.5" stroke="#222" stroke-width="1"/>
<line x1="836" y1="327.5" x2="841" y2="327.5" stroke="#222" stroke-width="1"/>
<line x1="836" y1="357.5" x2="841" y2="357.5" stroke="#222" stroke-width="1"/>
<line x1="836" y1="387.5" x2="841" y2="387.5" stroke="#222" stroke-width="1"/>
<line x1="836" y1="417.5" x2="841" y2="417.5" stroke="#222" stroke-width="1"/>
<line x1="836" y1="447.5" x2="841" y2="447.5" stroke="#222" stroke-width="1"/>
<line x1="836" y1="477.5" x2="841" y2="477.5" stroke="#222" stroke-width="1"/>
<line x1="836" y1="507.5" x2="841" y2="507.5" stroke="#222" stroke-width="1"/>
<line x1="836" y1="547.5" x2="841" y2="547.5" stroke="#222" stroke-width="1"/>
<line x1="836" y1="577.5" x2="841" y2="577.5" stroke="#222" stroke-width="1"/>
<line x1="836" y1="607.5" x2="841" y2="607.5" stroke="#222" stroke-width="1"/>
<line x1="836" y1="637.5" x2="841" y2="637.5" stroke="#222" stroke-width="1"/>
<g font-family="Liberation Sans, sans-serif" font-size="12" fill="#333"><text x="844" y="122.0">1.1636</text><text x="844" y="152.0">1.1537</text><text x="844" y="182.0">1.1438</text><text x="844" y="212.0">1.1339</text><text x="844" y="242.0">1.1240</text><text x="844" y="272.0">1.1141</text><text x="844" y="302.0">1.1043</text><text x="844" y="332.0">1.0944</text><text x="844" y="362.0">1.0845</text><text x="844" y="392.0">1.0746</text><text x="844" y="422.0">1.0647</text><text x="844" y="452.0">1.0548</text><text x="844" y="482.0">1.0449</text><text x="844" y="512.0">1.0350</text><text x="843" y="552.0">0.0042</text><text x="841" y="582.0">-0.0018</text><text x="841" y="612.0">-0.0079</text><text x="841" y="642.0">-0.0139</text></g>
<rect x="838" y="208.5" width="68" height="17.5" fill="#009a00"/>
<line x1="837" y1="217.5" x2="841" y2="217.5" stroke="#fff" stroke-width="1"/>
<text x="843" y="222" font-family="Liberation Sans, sans-serif" font-size="12" fill="#fff">1.1307</text>
</svg>
<div class="info" style="left:17px;top:97.5px;color:#222">开:<span style="color:#2a9d2a">1.1328</span></div>
<div class="info" style="left:89px;top:97.5px;color:#222">高:<span style="color:#2a9d2a">1.1344</span></div>
<div class="info" style="left:160px;top:97.5px;color:#222">低:<span style="color:#2a9d2a">1.1290</span></div>
<div class="info" style="left:232px;top:97.5px;color:#222">收:<span style="color:#2a9d2a">1.1307</span></div>
<div class="info" style="left:18px;top:115.5px;color:#dd5f87">MA5: 1.1264</div>
<div class="info" style="left:109px;top:115.5px;color:#46b9d2">MA10: 1.1220</div>
<div class="info" style="left:209px;top:115.5px;color:#a25bbd">MA20: 1.1274</div>
<div class="mi" style="left:17px;top:521px;color:#e0504a">MACD:0.0000</div>
<div class="mi" style="left:110px;top:521px;color:#4a98d8">DIFF:0.0000</div>
<div class="mi" style="left:191px;top:521px;color:#ec7a30">DEA:0.0000</div>
</body></html>
